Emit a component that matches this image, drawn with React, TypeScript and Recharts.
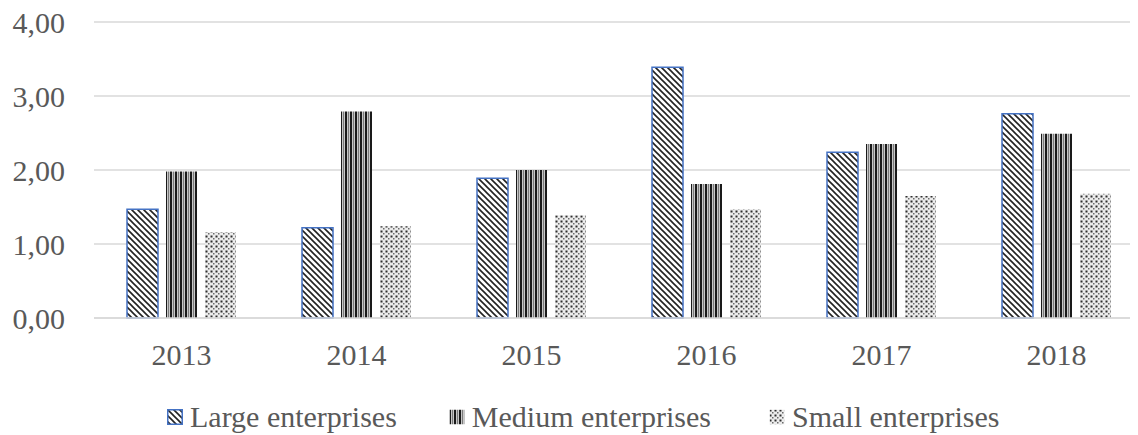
import React from 'react';
import { BarChart, Bar, XAxis, YAxis, CartesianGrid, Legend } from 'recharts';

const years = ['2013', '2014', '2015', '2016', '2017', '2018'];
const large = [1.47, 1.22, 1.89, 3.39, 2.24, 2.76];
const medium = [1.98, 2.79, 2.0, 1.81, 2.35, 2.49];
const small = [1.16, 1.24, 1.39, 1.47, 1.65, 1.68];
const yTicks = [0, 1, 2, 3, 4];

const data = years.map((y, i) => ({ year: y, large: large[i], medium: medium[i], small: small[i] }));

const FONT = '"Liberation Serif", "Times New Roman", serif';
const TEXT = '#595959';

const Patterns = () => (
    <svg width={0} height={0} style={{ position: 'absolute' }}>
        <defs>
            <pattern id="diag" width={6} height={6} patternUnits="userSpaceOnUse">
                <rect width={6} height={6} fill="#fff" />
                <path d="M-1,-1 L7,7 M-4,2 L2,8 M4,-2 L8,2" stroke="#222" strokeWidth={1.6} />
            </pattern>
            <pattern id="vert" width={5} height={5} patternUnits="userSpaceOnUse">
                <rect width={5} height={5} fill="#c8c8c8" />
                <rect x={0} width={2} height={5} fill="#1a1a1a" />
                <rect x={3} width={1} height={5} fill="#7a7a7a" />
            </pattern>
            <pattern id="dots" width={5} height={5} patternUnits="userSpaceOnUse">
                <rect width={5} height={5} fill="#ececec" />
                <rect x={0.5} y={0.5} width={2} height={2} fill="#2e2e2e" />
                <rect x={3} y={3} width={1.5} height={1.5} fill="#6a6a6a" />
            </pattern>
        </defs>
    </svg>
);

const legendItems = [
    { label: 'Large enterprises', fill: 'url(#diag)', stroke: '#4472C4', gap: 0 },
    { label: 'Medium enterprises', fill: 'url(#vert)', stroke: 'none', gap: 52 },
    { label: 'Small enterprises', fill: 'url(#dots)', stroke: 'none', gap: 58 },
];

const renderLegend = () => (
    <div style={{ display: 'flex', alignItems: 'center', paddingLeft: 167, paddingTop: 15, fontFamily: FONT, fontSize: 30, color: TEXT, lineHeight: 'normal' }}>
        {legendItems.map((it) => (
            <div key={it.label} style={{ display: 'flex', alignItems: 'center', marginLeft: it.gap }}>
                <svg width={16} height={16} style={{ marginRight: 7 }}>
                    <rect x={0.75} y={0.75} width={14.5} height={14.5} fill={it.fill} stroke={it.stroke} strokeWidth={1.5} />
                </svg>
                <span>{it.label}</span>
            </div>
        ))}
    </div>
);

const App: React.FC = () => {
    return (
        <div style={{ margin: '-8px 0 0 -8px', width: 1138, height: 435, background: '#fff', overflow: 'hidden' }}>
            <Patterns />
            <BarChart width={1138} height={435} data={data}
                margin={{ top: 22, right: -6, left: 0, bottom: 0 }}
                barGap={8} barSize={31}>
                <CartesianGrid vertical={false} stroke="#d9d9d9" strokeWidth={1.5} />
                <XAxis dataKey="year" height={67} axisLine={{ stroke: '#d9d9d9', strokeWidth: 1.5 }} tickLine={false}
                    tick={{ fill: TEXT, fontSize: 30, fontFamily: FONT }} tickMargin={20} />
                <YAxis width={94} domain={[0, 4]} ticks={yTicks} axisLine={false} tickLine={false} tickSize={0}
                    tickMargin={29} tickFormatter={(v: number) => v.toFixed(2).replace('.', ',')}
                    tick={{ fill: TEXT, fontSize: 30, fontFamily: FONT }} />
                <Legend verticalAlign="bottom" height={50} content={renderLegend} />
                <Bar dataKey="large" fill="url(#diag)" stroke="#4472C4" strokeWidth={1.5} isAnimationActive={false} />
                <Bar dataKey="medium" fill="url(#vert)" isAnimationActive={false} />
                <Bar dataKey="small" fill="url(#dots)" isAnimationActive={false} />
            </BarChart>
        </div>
    );
};

export default App;
